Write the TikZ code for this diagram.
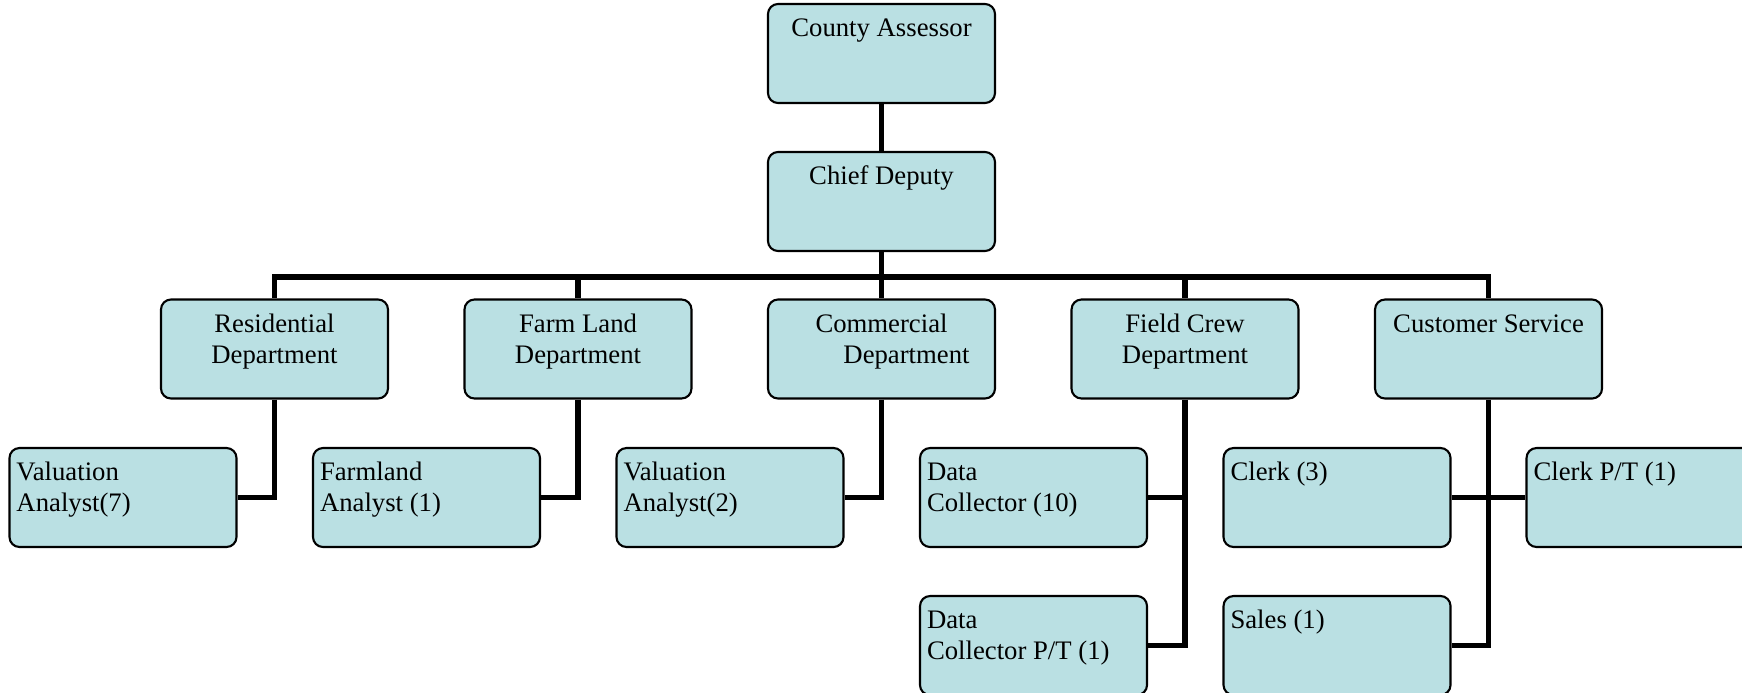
\documentclass[tikz,border=0pt]{standalone}
\usepackage{fontspec}
\setmainfont{Liberation Serif}
\usepackage{xcolor}
\definecolor{boxblue}{RGB}{186,224,227}

\tikzset{
    box/.style={draw, fill=boxblue, line width=0.6pt, rounded corners=0.1cm,
        inner xsep=0.07cm, inner ysep=0pt, font=\fontsize{7.6}{8.8}\selectfont,
        execute at begin node={\begin{minipage}[c][0.99cm][t]{2.13cm}\vspace*{0.11cm}\strut},
        execute at end node={\end{minipage}}},
    dept/.style={box, execute at begin node={\centering}},
    staff/.style={box, execute at begin node={\raggedright}},
    link/.style={line width=1.6pt, line join=miter}
}

\begin{document}
\begin{tikzpicture}
    \useasboundingbox (0, 0) rectangle (17.42, -6.92);

    % Top
    \node [dept] (assessor) at (8.815, -0.535) {County Assessor};
    \node [dept] (deputy) at (8.815, -2.015) {Chief Deputy};

    % Departments
    \node [dept] (res) at (2.745, -3.49) {Residential\\Department};
    \node [dept] (farm) at (5.78, -3.49) {Farm Land\\Department};
    \node [dept] (com) at (8.815, -3.49) {Commercial\\\hspace*{0.5cm}Department};
    \node [dept] (field) at (11.85, -3.49) {Field Crew\\Department};
    \node [dept] (cust) at (14.885, -3.49) {Customer Service};

    % Staff
    \node [staff] (val7) at (1.23, -4.975) {Valuation\\Analyst(7)};
    \node [staff] (farmer) at (4.265, -4.975) {Farmland\\Analyst (1)};
    \node [staff] (val2) at (7.30, -4.975) {Valuation\\Analyst(2)};
    \node [staff] (collect) at (10.335, -4.975) {Data\\Collector (10)};
    \node [staff] (collectpt) at (10.335, -6.455) {Data\\Collector P/T (1)};
    \node [staff] (clerk) at (13.37, -4.975) {Clerk (3)};
    \node [staff] (sales) at (13.37, -6.455) {Sales (1)};
    \node [staff] (clerkpt) at (16.40, -4.975) {Clerk P/T (1)};

    % Links
    \draw [link] (assessor) -- (deputy);
    \draw [link] (deputy.south) -- ++(0, -0.25) coordinate (bar);
    \foreach \d in {res, farm, com, field, cust}
        \draw [link] (bar) -| (\d.north);
    \draw [link] (res.south) |- (val7.east);
    \draw [link] (farm.south) |- (farmer.east);
    \draw [link] (com.south) |- (val2.east);
    \draw [link] (field.south) |- (collectpt.east);
    \draw [link] (collect.east) -- (collect.east -| field.south);
    \draw [link] (cust.south) |- (sales.east);
    \draw [link] (clerk.east) -- (clerkpt.west);
\end{tikzpicture}
\end{document}
